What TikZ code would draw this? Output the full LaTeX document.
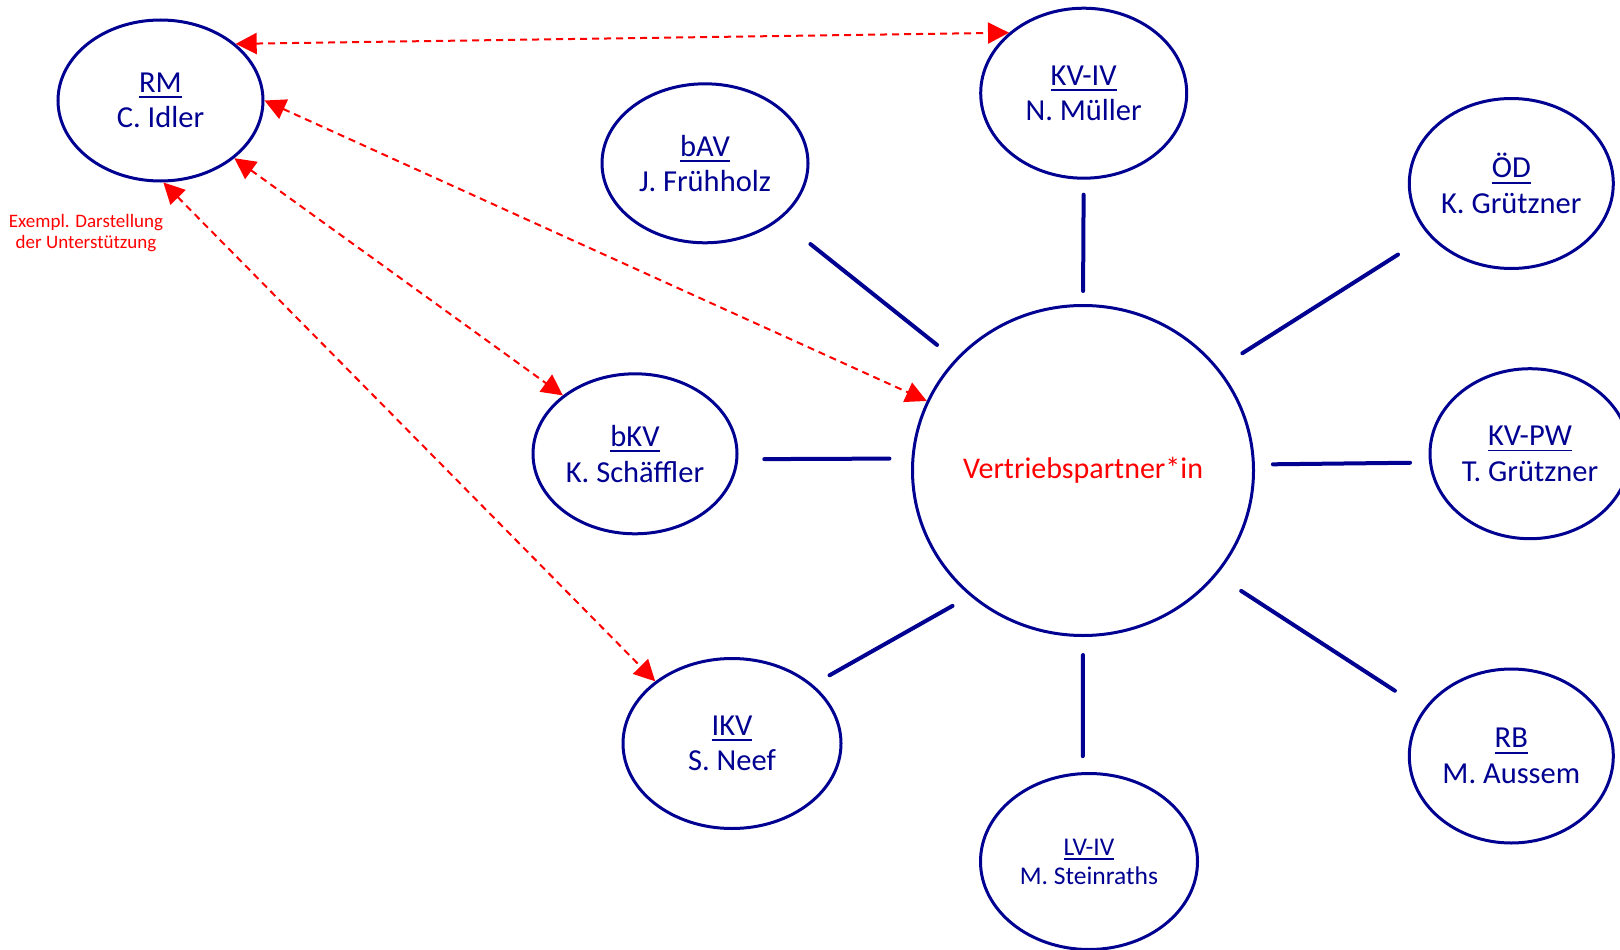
\documentclass[tikz,border=0pt]{standalone}
\usepackage{fontspec}
\setmainfont{Carlito}
\usetikzlibrary{arrows.meta,shapes.geometric}
\definecolor{navy}{RGB}{0,0,145}
\definecolor{redc}{RGB}{255,0,0}
\newcommand\myul[1]{\leavevmode\setbox0=\hbox{#1}\rlap{\rule[-0.19em]{\wd0}{0.062em}}\box0}
\begin{document}
\begin{tikzpicture}[x=1pt,y=-1pt,
  unit/.style={ellipse, draw=navy, line width=3pt, text=navy, align=center, inner sep=0pt,
    font=\fontsize{30.5}{35.5}\selectfont},
  link/.style={draw=navy, line width=4pt, line cap=round},
  support/.style={draw=redc, line width=2pt, dash pattern=on 7pt off 5pt,
    {Triangle[length=21pt,width=21pt]}-{Triangle[length=21pt,width=21pt]}}]
\useasboundingbox (0,0) rectangle (1620,950);

\node[unit, minimum width=205pt, minimum height=161pt] (rm) at (160.5,100.5) {\myul{RM}\\C. Idler};
\node[unit, minimum width=206pt, minimum height=170pt] (kviv) at (1083.7,93.2) {\myul{KV-IV}\\N. Müller};
\node[unit, minimum width=206pt, minimum height=159pt] (bav) at (705,163.3) {\myul{bAV}\\J. Frühholz};
\node[unit, minimum width=204pt, minimum height=170pt] (od) at (1511.3,183.5) {\myul{ÖD}\\K. Grützner};
\node[unit, minimum width=200pt, minimum height=170pt] (kvpw) at (1530,453.7) {\myul{KV-PW}\\T. Grützner};
\node[unit, minimum width=204pt, minimum height=160pt] (bkv) at (635,453.8) {\myul{bKV}\\K. Schäffler};
\node[unit, minimum width=341pt, minimum height=330pt, text=redc,
  font=\fontsize{30}{36}\selectfont] (vp) at (1083,470.5) {Vertriebspartner*in};
\node[unit, minimum width=218pt, minimum height=170pt] (ikv) at (732,743.5) {\myul{IKV}\\S. Neef};
\node[unit, minimum width=217pt, minimum height=176pt, font=\fontsize{25.5}{29}\selectfont] (lviv) at (1089,861.5) {\myul{LV-IV}\\M. Steinraths};
\node[unit, minimum width=204pt, minimum height=174pt] (rb) at (1511.3,756) {\myul{RB}\\M. Aussem};

\node[text=redc, align=center, inner sep=0pt, font=\fontsize{19}{20.5}\selectfont] (note) at (86,233) {Exempl. Darstellung\\der Unterstützung};

\draw[link, shorten <=39pt, shorten >=23pt] (bav.-37) -- (vp.139);
\draw[link, shorten <=15pt, shorten >=13pt] (kviv.south) -- (vp.north);
\draw[link, shorten <=36pt, shorten >=28pt] (od.212) -- (vp.37);
\draw[link, shorten <=19pt, shorten >=18pt] (kvpw.185) -- (vp.2);
\draw[link, shorten <=34pt, shorten >=29pt] (rb.152) -- (vp.-38);
\draw[link, shorten <=16pt, shorten >=18pt] (lviv.94) -- (vp.south);
\draw[link, shorten <=19pt, shorten >=20pt] (ikv.36) -- (vp.228);
\draw[link, shorten <=26pt, shorten >=22pt] (bkv.-3) -- (vp.176);

\draw[support] (rm.37) -- (kviv.141);
\draw[support] (rm.0) -- (vp.156);
\draw[support] (rm.-38) -- (bkv.141);
\draw[support] (rm.-88) -- (ikv.141);
\end{tikzpicture}
\end{document}
